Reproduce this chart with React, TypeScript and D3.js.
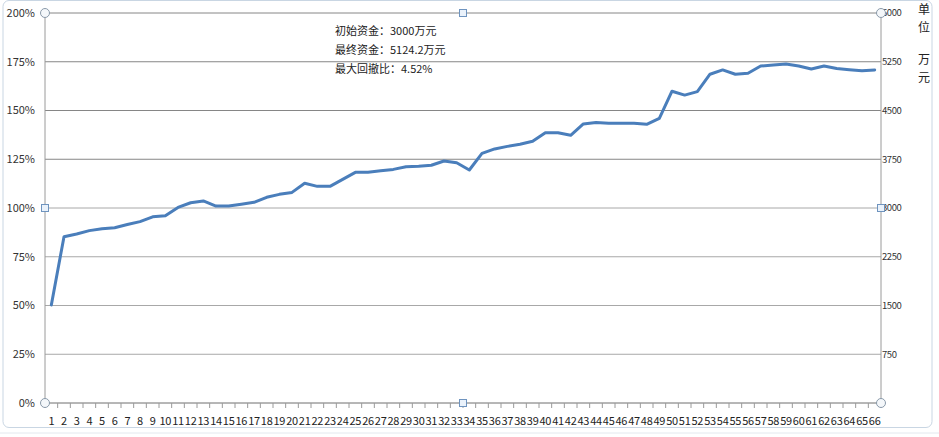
import React from "react";
import * as d3 from "d3";

const categories: string[] = Array.from({ length: 66 }, (_, i) => String(i + 1));

const equityPct: number[] = [
  50.3, 85.3, 86.7, 88.4, 89.4, 89.9, 91.5, 93.0, 95.5, 96.0,
  100.3, 102.7, 103.6, 101.0, 101.0, 101.9, 102.9, 105.5, 107.0, 108.0,
  112.7, 111.1, 111.1, 114.7, 118.3, 118.3, 119.1, 119.8, 121.2, 121.4,
  121.9, 124.1, 123.2, 119.5, 128.0, 130.3, 131.6, 132.7, 134.2, 138.6,
  138.6, 137.3, 143.1, 143.9, 143.4, 143.5, 143.5, 142.9, 146.0, 159.9,
  157.9, 159.7, 168.6, 170.8, 168.6, 169.1, 172.8, 173.3, 173.8, 172.8,
  171.3, 172.8, 171.5, 170.9, 170.4, 170.8,
];

const leftTicks: number[] = [0, 25, 50, 75, 100, 125, 150, 175, 200];
const rightTicks: number[] = [750, 1500, 2250, 3000, 3750, 4500, 5250, 6000];

const notes: string[] = ["初始资金：3000万元", "最终资金：5124.2万元", "最大回撤比：4.52%"];
const unitTop: string[] = ["单", "位"];
const unitBottom: string[] = ["万", "元"];

const W = 939;
const H = 437;
const L = 45;
const R = 881;
const T = 13;
const B = 403;

export default function App() {
  const x = d3.scaleBand<string>().domain(categories).range([L, R]).padding(0);
  const y = d3.scaleLinear().domain([0, 200]).range([B, T]);
  const y2 = d3.scaleLinear().domain([0, 6000]).range([B, T]);
  const bw = x.bandwidth();
  const line = d3
    .line<number>()
    .x((_, i) => (x(categories[i]) as number) + bw / 2)
    .y((d) => y(d));

  const font = "'Noto Sans CJK SC', 'Noto Sans', sans-serif";
  const boundaries = d3.range(categories.length + 1).map((i) => L + i * bw);

  const circleHandle = (cx: number, cy: number, k: string) => (
    <circle key={k} cx={cx} cy={cy} r={4.5} fill="#f4f7fa" stroke="#8a9aaa" strokeWidth={1} />
  );
  const squareHandle = (cx: number, cy: number, k: string) => (
    <rect key={k} x={cx - 3.5} y={cy - 3.5} width={7} height={7} fill="#eaf2fb" stroke="#6f94bf" strokeWidth={1} />
  );

  return (
    <svg
      width={W}
      height={H}
      style={{ position: "absolute", left: 0, top: 0, background: "#ffffff" }}
      fontFamily={font}
    >
      {/* spreadsheet background strip */}
      <rect x={0} y={0} width={W} height={H} fill="#ffffff" />
      <line x1={0} x2={W} y1={433} y2={433} stroke="#e3e8ee" />
      {/* chart frame */}
      <rect x={3} y={0.5} width={929} height={427} rx={6} fill="#ffffff" stroke="#c9d6e3" strokeWidth={1} />

      {/* gridlines */}
      {leftTicks.map((t) => (
        <line key={"g" + t} x1={L} x2={R} y1={y(t)} y2={y(t)} stroke={t >= 125 ? "#868686" : "#a8a8a8"} strokeWidth={1} />
      ))}

      {/* axes */}
      <line x1={L} x2={L} y1={T} y2={B} stroke="#9a9a9a" />
      <line x1={R} x2={R} y1={T} y2={B} stroke="#9a9a9a" />
      <line x1={L} x2={R} y1={B} y2={B} stroke="#9a9a9a" />
      {boundaries.map((bx, i) => (
        <line key={"t" + i} x1={bx} x2={bx} y1={B} y2={B + 5} stroke="#9a9a9a" />
      ))}

      {/* left tick labels */}
      {leftTicks.map((t) => (
        <text key={"l" + t} x={35} y={y(t)} dy="0.35em" textAnchor="end" fontSize={11} fill="#333">
          {t + "%"}
        </text>
      ))}

      {/* right tick labels */}
      {rightTicks.map((t) => (
        <text key={"r" + t} x={882} y={y2(t)} dy="0.35em" textAnchor="start" fontSize={9.5} fill="#333" letterSpacing={-0.4}>
          {String(t)}
        </text>
      ))}

      {/* x labels */}
      {categories.map((c) => (
        <text key={"x" + c} x={(x(c) as number) + bw / 2} y={421} dy="0.35em" textAnchor="middle" fontSize={11} fill="#222" letterSpacing={-0.3}>
          {c}
        </text>
      ))}

      {/* line */}
      <path d={line(equityPct) || ""} fill="none" stroke="#4a7ebb" strokeWidth={3} strokeLinejoin="round" strokeLinecap="round" />

      {/* notes */}
      {notes.map((n, i) => (
        <text key={"n" + i} x={335} y={31 + i * 19} dy="0.35em" fontSize={11} fill="#222">
          {n}
        </text>
      ))}

      {/* unit label */}
      {unitTop.map((u, i) => (
        <text key={"u" + i} x={924} y={10 + i * 18} dy="0.35em" textAnchor="middle" fontSize={12} fill="#222">
          {u}
        </text>
      ))}
      {unitBottom.map((u, i) => (
        <text key={"v" + i} x={924} y={60 + i * 18} dy="0.35em" textAnchor="middle" fontSize={12} fill="#222">
          {u}
        </text>
      ))}

      {/* selection handles */}
      {circleHandle(L, T, "c1")}
      {circleHandle(R, T, "c2")}
      {circleHandle(L, B, "c3")}
      {circleHandle(R, B, "c4")}
      {squareHandle((L + R) / 2, T, "s1")}
      {squareHandle((L + R) / 2, B, "s2")}
      {squareHandle(L, (T + B) / 2, "s3")}
      {squareHandle(R, (T + B) / 2, "s4")}
    </svg>
  );
}
